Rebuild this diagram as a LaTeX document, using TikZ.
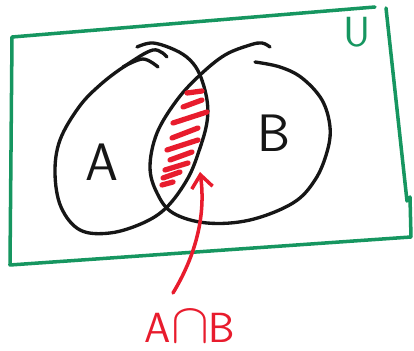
\documentclass[tikz,border=0pt]{standalone}
\usepackage{tikz}
\usetikzlibrary{arrows.meta,positioning}
\definecolor{vennGreen}{RGB}{22,150,96}
\definecolor{vennRed}{RGB}{232,28,45}
\definecolor{vennInk}{RGB}{22,22,22}
\tikzset{
    % Sets and universe
    setLine/.style={draw=vennInk, line width=1.9pt, line cap=round, line join=round},
    universe/.style={draw=vennGreen, line width=2pt, line cap=round, line join=round},
    hatch/.style={draw=vennRed, line width=3pt, line cap=round},
    % Labels
    setLabel/.style={font=\sffamily\fontsize{30}{32}\selectfont, text=vennInk, inner sep=0pt},
    uLabel/.style={font=\sffamily\fontsize{24}{26}\selectfont, text=vennGreen, inner sep=0pt},
    capLabel/.style={font=\sffamily\fontsize{24}{26}\selectfont, text=vennRed, inner sep=0pt}
}
\begin{document}
\begin{tikzpicture}[
    x=0.02cm, y=-0.02cm,
    arr/.style={-{Straight Barb[length=2.6mm, width=4.2mm]}, draw=vennRed, line width=2pt, line cap=round}
]
\useasboundingbox (0,0) rectangle (414,351);
\draw[universe] (375,7) -- (12,37) -- (10,265) -- (411,237) -- (410,197) -- (407,201) -- (386,8);

\draw[setLine] plot[smooth, tension=0.6] coordinates {(137,47) (153,43) (175,50) (190,60) (200,75) (207,100) (207,122) (200,148) (188,178) (167,207) (143,223) (110,233) (80,230) (61,207) (55,173) (60,140) (79,107) (100,85) (125,66) (153,50) (167,57)};
\draw[setLine] plot[smooth, tension=0.6] coordinates {(123,67) (143,59) (158,67)};
\draw[setLine] plot[smooth, tension=0.6] coordinates {(255,62) (280,67) (302,78) (322,100) (330,127) (327,152) (315,180) (293,203) (250,220) (207,223) (173,213) (157,193) (150,167) (157,133) (177,100) (200,75) (225,55) (250,45) (262,43) (270,47)};

\foreach \xa/\ya/\xb/\yb in {187/93/202/91, 183/107/202/100, 173/123/207/112, 172/138/198/128, 167/150/198/140, 170/160/192/152, 165/170/188/163, 163/178/180/172, 162/185/173/182}
    \draw[hatch] (\xa,\ya) -- (\xb,\yb);

\node[setLabel] (lblA) at (102,162) {A};
\node[setLabel] (lblB) at (274,133) {B};
\node[uLabel] (lblU) at (357,32) {U};
\node[capLabel] (lblAB) at (190,327) {A\scalebox{1.3}{$\cap$}B};

\coordinate (tail) at (173,293);
\coordinate (lens) at (200,172);
\draw[arr] (tail) .. controls (196,255) and (206,215) .. (lens);
\end{tikzpicture}
\end{document}
